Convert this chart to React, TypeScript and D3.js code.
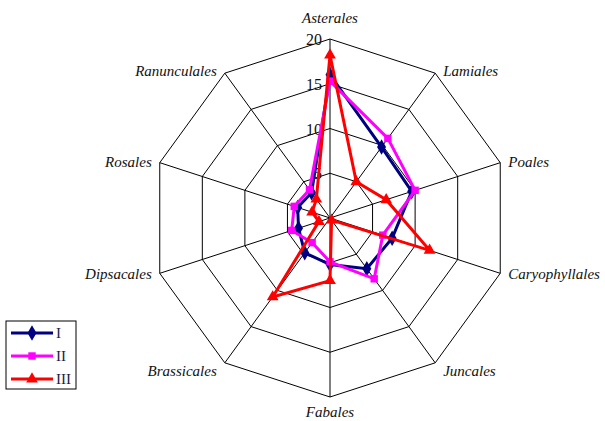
import { useEffect, useRef } from 'react';
import * as d3 from 'd3';

const categories = ['Asterales', 'Lamiales', 'Poales', 'Caryophyllales', 'Juncales', 'Fabales', 'Brassicales', 'Dipsacales', 'Rosales', 'Ranunculales'];
const seriesI   = [16, 9.8, 9.6, 7.3, 7, 5.2, 4.8, 3.7, 3.8, 3.5];
const seriesII  = [15.3, 11, 10, 6.2, 8.4, 4.9, 3.4, 4.5, 4.2, 3.9];
const seriesIII = [18.2, 5, 6.6, 11.7, 0.3, 7, 10.9, 1.3, 2.1, 2.6];
const ticks = [5, 10, 15, 20];
const seriesNames = ['I', 'II', 'III'];

export default function App() {
    const svgRef = useRef<SVGSVGElement>(null);

    useEffect(() => {
        if (!svgRef.current) return;
        document.body.style.margin = '0';

        const W = 605, H = 421;
        const cx = 330, cy = 218, R = 179;
        const font = '"Liberation Serif", "Times New Roman", serif';

        const svg = d3.select(svgRef.current);
        svg.selectAll('*').remove();
        svg.attr('width', W).attr('height', H);

        const r = d3.scaleLinear().domain([0, 20]).range([0, R]);
        const ang = d3.scaleLinear().domain([0, categories.length]).range([0, 2 * Math.PI]);
        const pt = (i: number, v: number): [number, number] => [
            cx + r(v) * Math.sin(ang(i)),
            cy - r(v) * Math.cos(ang(i)),
        ];

        const g = svg.append('g');

        // grid rings
        const ring = d3.line<number>().x((_, i) => pt(i, 0)[0]).y((_, i) => pt(i, 0)[1]);
        ticks.forEach(t => {
            const pts = categories.map((_, i) => pt(i, t));
            g.append('polygon')
                .attr('points', pts.map(p => p.join(',')).join(' '))
                .attr('fill', 'none').attr('stroke', '#000').attr('stroke-width', 1);
        });
        void ring;

        // spokes
        categories.forEach((_, i) => {
            const [x, y] = pt(i, 20);
            g.append('line').attr('x1', cx).attr('y1', cy).attr('x2', x).attr('y2', y)
                .attr('stroke', '#000').attr('stroke-width', 1);
        });

        // category labels
        categories.forEach((c, i) => {
            const a = ang(i);
            const [x, y] = pt(i, 20);
            const s = Math.sin(a), co = Math.cos(a);
            let tx = x, ty = y, anchor = 'middle';
            if (Math.abs(s) < 0.01) {
                ty = co > 0 ? y - 16 : y + 20;
            } else {
                anchor = s > 0 ? 'start' : 'end';
                tx = x + (s > 0 ? 8 : -8);
                ty = y + 5 - 3 * co + (co < -0.5 ? 6 : 0);
            }
            g.append('text').attr('x', tx).attr('y', ty).attr('text-anchor', anchor)
                .attr('font-family', font).attr('font-style', 'italic').attr('font-size', 15)
                .attr('fill', '#111').text(c);
        });

        // tick labels
        ticks.forEach(t => {
            g.append('text').attr('x', cx - 8).attr('y', cy - r(t) + 6)
                .attr('text-anchor', 'end').attr('font-family', font).attr('font-size', 16)
                .attr('fill', '#111').text(t);
        });

        const series = [
            { name: seriesNames[0], values: seriesI, color: '#000080', marker: d3.symbolDiamond, size: 70 },
            { name: seriesNames[1], values: seriesII, color: '#FF00FF', marker: d3.symbolSquare, size: 55 },
            { name: seriesNames[2], values: seriesIII, color: '#FF0000', marker: d3.symbolTriangle, size: 60 },
        ];

        const line = d3.line<number>()
            .x((v, i) => pt(i, v)[0])
            .y((v, i) => pt(i, v)[1])
            .curve(d3.curveLinearClosed);

        series.forEach(s => {
            g.append('path').attr('d', line(s.values))
                .attr('fill', 'none').attr('stroke', s.color).attr('stroke-width', 3)
                .attr('stroke-linejoin', 'miter');
            g.selectAll(null).data(s.values).join('path')
                .attr('transform', (v, i) => `translate(${pt(i, v).join(',')})`)
                .attr('d', d3.symbol().type(s.marker).size(s.size)())
                .attr('fill', s.color);
        });

        // legend
        const lg = svg.append('g').attr('transform', 'translate(6,321)');
        lg.append('rect').attr('width', 70).attr('height', 68)
            .attr('fill', '#fff').attr('stroke', '#000').attr('stroke-width', 1);
        series.forEach((s, i) => {
            const y = 12 + i * 23;
            lg.append('line').attr('x1', 5).attr('x2', 47).attr('y1', y).attr('y2', y)
                .attr('stroke', s.color).attr('stroke-width', 3);
            lg.append('path').attr('transform', `translate(26,${y})`)
                .attr('d', d3.symbol().type(s.marker).size(s.size)())
                .attr('fill', s.color);
            lg.append('text').attr('x', 50).attr('y', y + 5)
                .attr('font-family', font).attr('font-size', 15).attr('fill', '#1a1a4a')
                .text(s.name);
        });
    }, []);

    return <svg ref={svgRef} style={{ display: 'block' }} />;
}
